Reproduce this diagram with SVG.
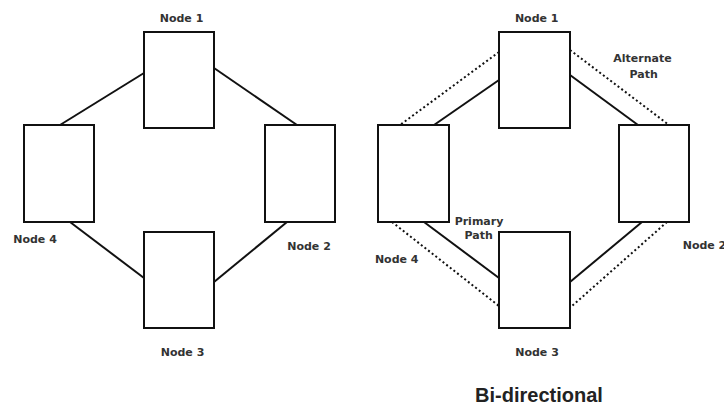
<svg xmlns="http://www.w3.org/2000/svg" width="724" height="406" viewBox="0 0 724 406">
<style>
.box{fill:#fff;stroke:#111;stroke-width:2}
.ln{stroke:#111;stroke-width:2;fill:none}
.dot{stroke:#111;stroke-width:2;fill:none;stroke-dasharray:2 2.6}
.lbl{font-family:"DejaVu Sans",Verdana,sans-serif;font-size:11px;font-weight:bold;fill:#333}
.ttl{font-family:"Liberation Sans",Arial,sans-serif;font-size:20px;font-weight:bold;fill:#222}
</style>
<rect width="724" height="406" fill="#fff"/>
<g id="connectors">
<line class="ln" x1="144" y1="73" x2="60" y2="125"/>
<line class="ln" x1="214" y1="68" x2="297" y2="125"/>
<line class="ln" x1="70" y1="222" x2="144" y2="278"/>
<line class="ln" x1="287" y1="222" x2="214" y2="282"/>
<line class="ln" x1="499" y1="80" x2="434" y2="125"/>
<line class="ln" x1="570" y1="75" x2="638" y2="125"/>
<line class="ln" x1="424" y1="222" x2="499" y2="278"/>
<line class="ln" x1="642" y1="222" x2="570" y2="282"/>
<line class="dot" x1="499" y1="52" x2="400" y2="125"/>
<line class="dot" x1="570" y1="50" x2="669" y2="125"/>
<line class="dot" x1="392" y1="222" x2="499" y2="306"/>
<line class="dot" x1="667" y1="222" x2="572" y2="306"/>
</g>
<g id="l-node1"><rect class="box" x="144" y="32" width="70" height="96"/><text class="lbl" x="181.5" y="21.5" text-anchor="middle">Node 1</text></g>
<g id="l-node2"><rect class="box" x="265" y="125" width="70" height="97"/><text class="lbl" x="309" y="250" text-anchor="middle">Node 2</text></g>
<g id="l-node3"><rect class="box" x="144" y="232" width="70" height="96"/><text class="lbl" x="182.5" y="356" text-anchor="middle">Node 3</text></g>
<g id="l-node4"><rect class="box" x="24" y="125" width="70" height="97"/><text class="lbl" x="35" y="242.5" text-anchor="middle">Node 4</text></g>
<g id="r-node1"><rect class="box" x="499" y="32" width="71" height="96"/><text class="lbl" x="536.7" y="21.5" text-anchor="middle">Node 1</text></g>
<g id="r-node2"><rect class="box" x="619" y="125" width="70" height="97"/><text class="lbl" x="682.7" y="249.3">Node 2</text></g>
<g id="r-node3"><rect class="box" x="499" y="232" width="71" height="96"/><text class="lbl" x="537" y="356" text-anchor="middle">Node 3</text></g>
<g id="r-node4"><rect class="box" x="378" y="125" width="71" height="97"/><text class="lbl" x="396.7" y="262.7" text-anchor="middle">Node 4</text></g>
<g id="labels">
<text class="lbl" x="642.5" y="62" text-anchor="middle">Alternate</text>
<text class="lbl" x="643.7" y="78" text-anchor="middle">Path</text>
<text class="lbl" x="479" y="225" text-anchor="middle">Primary</text>
<text class="lbl" x="478.7" y="238.5" text-anchor="middle">Path</text>
<text class="ttl" x="539" y="402" text-anchor="middle">Bi-directional</text>
</g>
</svg>
